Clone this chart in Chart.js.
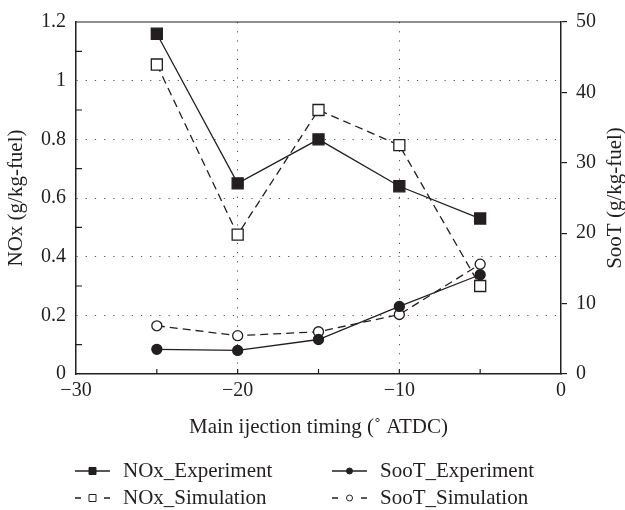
<!DOCTYPE html>
<html>
<head>
<meta charset="utf-8">
<script src="https://cdn.jsdelivr.net/npm/chart.js@4"></script>
<style>body{margin:0;background:#fff}</style>
</head>
<body>
<canvas id="chart" width="625" height="510"></canvas>
<script>
// Données
const timing = [-25, -20, -15, -10, -5];
const noxExp = [1.16, 0.65, 0.80, 0.64, 0.53];
const noxSim = [1.055, 0.475, 0.90, 0.78, 0.30];
const sootExp = [3.5, 3.35, 4.9, 9.6, 14.1];
const sootSim = [6.85, 5.45, 6.0, 8.45, 15.6];
const minorNox = [0.1, 0.3, 0.5, 0.7, 0.9, 1.1];
const minorTiming = [-25, -20, -15, -10, -5];

const ink = '#231f20';
const serif = 'Liberation Serif';

function pts(ys) {
    return timing.map((x, i) => ({ x, y: ys[i] }));
}
const minus = v => String(v).replace('-', '\u2212');
const court = v => String(Number(v.toFixed(1)));

// ticks intérieurs, cadre du haut, titre de droite et légende
const extras = {
    id: 'extras',
    afterDraw(chart) {
        const ctx = chart.ctx;
        const a = chart.chartArea;
        const y = chart.scales.y, x = chart.scales.x;
        ctx.save();
        ctx.strokeStyle = ink;
        ctx.lineWidth = 1.2;
        ctx.beginPath();
        ctx.moveTo(a.left, a.top);
        ctx.lineTo(a.right, a.top);
        minorNox.forEach(v => {
            const py = y.getPixelForValue(v);
            ctx.moveTo(a.left, py);
            ctx.lineTo(a.left + 6, py);
        });
        minorTiming.forEach(v => {
            const px = x.getPixelForValue(v);
            ctx.moveTo(px, a.bottom);
            ctx.lineTo(px, a.bottom - 5);
        });
        ctx.stroke();

        ctx.fillStyle = ink;
        ctx.font = '21px "' + serif + '"';
        ctx.textAlign = 'center';
        ctx.textBaseline = 'middle';
        ctx.translate(615, (a.top + a.bottom) / 2);
        ctx.rotate(-Math.PI / 2);
        ctx.fillText('SooT (g/kg-fuel)', 0, 0);
        ctx.restore();

        // légende en deux colonnes
        const cols = [75, 332];
        const rows = [471, 498];
        ctx.save();
        ctx.font = '21px "' + serif + '"';
        ctx.textBaseline = 'middle';
        chart.data.datasets.forEach((ds, i) => {
            const x0 = cols[Math.floor(i / 2)];
            const y0 = rows[i % 2];
            const mid = x0 + 17.5;
            ctx.strokeStyle = ink;
            ctx.lineWidth = 1.3;
            ctx.beginPath();
            if (ds.borderDash && ds.borderDash.length) {
                ctx.moveTo(x0, y0); ctx.lineTo(x0 + 6, y0);
                ctx.moveTo(x0 + 29, y0); ctx.lineTo(x0 + 35, y0);
            } else {
                ctx.moveTo(x0, y0); ctx.lineTo(x0 + 35, y0);
            }
            ctx.stroke();
            ctx.fillStyle = ds.pointBackgroundColor;
            ctx.lineWidth = 1;
            ctx.beginPath();
            if (ds.pointStyle === 'rect') {
                ctx.rect(mid - 3.5, y0 - 3.5, 7, 7);
            } else {
                ctx.arc(mid, y0, 3, 0, Math.PI * 2);
            }
            ctx.fill();
            ctx.stroke();
            ctx.fillStyle = ink;
            ctx.fillText(ds.label, x0 + 48, y0);
        });
        ctx.restore();
    }
};

function serie(label, data, axis, style, filled, dashed) {
    return {
        label,
        data: pts(data),
        yAxisID: axis,
        borderColor: ink,
        borderWidth: 1.3,
        borderDash: dashed ? [8, 5] : [],
        pointStyle: style,
        pointRadius: style === 'rect' ? 7.8 : 5,
        pointHoverRadius: style === 'rect' ? 7.8 : 5,
        pointBorderWidth: 1.3,
        pointBackgroundColor: filled ? ink : '#fff',
        pointBorderColor: ink,
        tension: 0,
        fill: false
    };
}

const gridColor = edges => c => (c.tick && edges.includes(c.tick.value)) ? 'rgba(0,0,0,0)' : '#555';

function afficherGraphique() {
    const ctx = document.getElementById('chart').getContext('2d');
    new Chart(ctx, {
        type: 'line',
        data: {
            datasets: [
                serie('NOx_Experiment', noxExp, 'y', 'rect', true, false),
                serie('NOx_Simulation', noxSim, 'y', 'rect', false, true),
                serie('SooT_Experiment', sootExp, 'y1', 'circle', true, false),
                serie('SooT_Simulation', sootSim, 'y1', 'circle', false, true)
            ]
        },
        options: {
            responsive: false,
            animation: false,
            layout: { padding: { top: 15, bottom: 70, left: 0, right: 0 } },
            plugins: { legend: { display: false }, tooltip: { enabled: false } },
            scales: {
                x: {
                    type: 'linear',
                    min: -30, max: 0,
                    ticks: { stepSize: 10, color: ink, font: { family: serif, size: 20 }, padding: 5, callback: minus },
                    grid: { color: gridColor([-30, 0]), lineWidth: 1, drawTicks: false },
                    border: { display: true, color: ink, width: 1.5, dash: [1.2, 8] },
                    title: { display: true, text: 'Main ijection timing (\u02da ATDC)', color: ink, font: { family: serif, size: 21 }, padding: { top: 0, bottom: 0 } },
                    afterFit: s => { s.height = 66; }
                },
                y: {
                    position: 'left',
                    min: 0, max: 1.2,
                    ticks: { stepSize: 0.2, color: ink, font: { family: serif, size: 20 }, padding: 10, callback: court },
                    grid: { color: gridColor([0, 1.2]), lineWidth: 1, drawTicks: false },
                    border: { display: true, color: ink, width: 1.5, dash: [1.2, 8] },
                    title: { display: true, text: 'NOx (g/kg-fuel)', color: ink, font: { family: serif, size: 21 }, padding: { top: 4, bottom: 0 } },
                    afterFit: s => { s.width = 76; }
                },
                y1: {
                    position: 'right',
                    min: 0, max: 50,
                    ticks: { stepSize: 10, color: ink, font: { family: serif, size: 20 }, padding: 9 },
                    grid: { drawOnChartArea: false, drawTicks: true, tickLength: 6, color: ink, lineWidth: 1.2 },
                    border: { display: true, color: ink, width: 1.5 },
                    afterFit: s => { s.width = 64; }
                }
            }
        },
        plugins: [extras]
    });
}
document.addEventListener('DOMContentLoaded', afficherGraphique);
</script>
</body>
</html>
